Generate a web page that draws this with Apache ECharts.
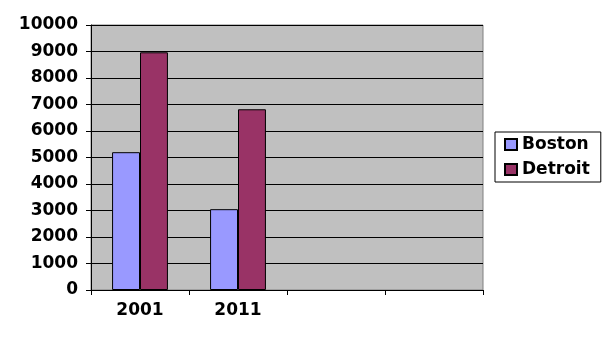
<!DOCTYPE html>
<html>
<head>
<meta charset="utf-8">
<script src="https://cdn.jsdelivr.net/npm/echarts@6/dist/echarts.min.js"></script>
<style>html,body{margin:0;padding:0;background:#fff;}#c{width:605px;height:340px;}</style>
</head>
<body>
<div id="c"></div>
<script>
var categories = ['2001', '2011', '', ''];
var seriesNames = ['Boston', 'Detroit'];
var boston = [5200, 3050, null, null];
var detroit = [8970, 6820, null, null];
var yTicks = { min: 0, max: 10000, interval: 1000 };

var chart = echarts.init(document.getElementById('c'), null, { renderer: 'canvas' });
var font = 'DejaVu Sans';
chart.setOption({
  animation: false,
  backgroundColor: '#ffffff',
  grid: {
    left: 91, top: 25, right: 122, bottom: 50,
    show: true, backgroundColor: '#c0c0c0', borderColor: '#808080', borderWidth: 1
  },
  legend: {
    orient: 'vertical',
    left: 495, top: 132,
    padding: [4, 11, 4, 9],
    itemGap: 8,
    itemWidth: 12, itemHeight: 11,
    borderColor: '#000', borderWidth: 1,
    icon: 'rect',
    data: seriesNames,
    textStyle: { fontFamily: font, fontWeight: 'bold', fontSize: 17, color: '#000', lineHeight: 17 }
  },
  xAxis: {
    type: 'category',
    data: categories,
    axisLine: { lineStyle: { color: '#000', width: 1 } },
    axisTick: { show: true, length: 5, lineStyle: { color: '#000' } },
    axisLabel: { fontFamily: font, fontWeight: 'bold', fontSize: 17, color: '#000', margin: 12 },
    splitLine: { show: false }
  },
  yAxis: {
    type: 'value',
    min: yTicks.min, max: yTicks.max, interval: yTicks.interval,
    axisLine: { show: true, lineStyle: { color: '#000', width: 1 } },
    axisTick: { show: true, length: 5, lineStyle: { color: '#000' } },
    axisLabel: {
      fontFamily: font, fontWeight: 'bold', fontSize: 17, color: '#000', margin: 13,
      lineHeight: 17, padding: [3, 0, 0, 0],
      formatter: function (v) { return String(v); }
    },
    splitLine: { show: true, lineStyle: { color: '#000', width: 1 } }
  },
  series: [
    {
      name: seriesNames[0], type: 'bar', data: boston,
      barGap: '0%', barCategoryGap: '43%',
      itemStyle: { color: '#9999ff', borderColor: '#000', borderWidth: 1 }
    },
    {
      name: seriesNames[1], type: 'bar', data: detroit,
      barGap: '0%', barCategoryGap: '43%',
      itemStyle: { color: '#993366', borderColor: '#000', borderWidth: 1 }
    }
  ]
});
</script>
</body>
</html>
